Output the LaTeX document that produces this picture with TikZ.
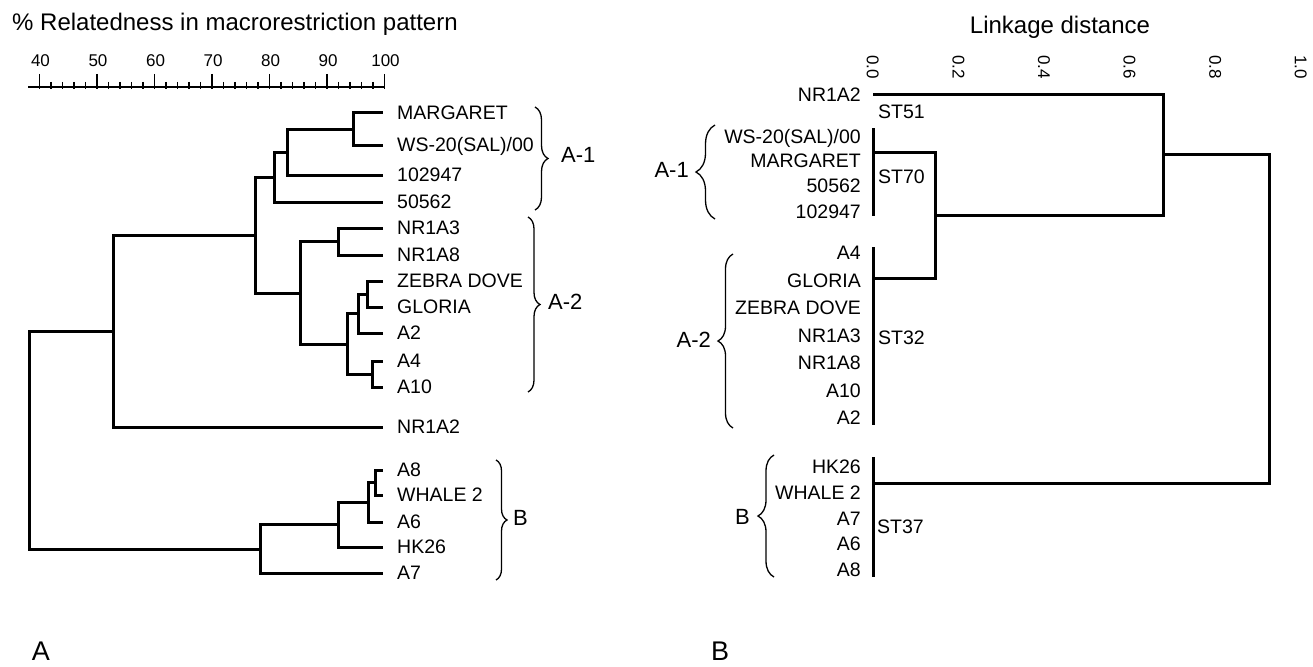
\documentclass[tikz,border=0pt]{standalone}
\usepackage{fontspec}
\setmainfont{Liberation Sans}
\usetikzlibrary{decorations.pathreplacing}
\begin{document}
\begin{tikzpicture}[x=1pt,y=-1pt,
  tree/.style={line width=3pt},
  axisline/.style={line width=1.3pt},
  tickline/.style={line width=1.1pt},
  bracel/.style={line width=1.3pt,decorate,decoration={brace,amplitude=#1}},
  leafl/.style={font=\fontsize{19.5}{20}\selectfont,inner sep=0pt,text height=13.8pt,text depth=0pt},
  stl/.style={font=\fontsize{19.5}{20}\selectfont,inner sep=0pt,text height=13.8pt,text depth=0pt,anchor=west},
  tickl/.style={font=\fontsize{17}{18}\selectfont,inner sep=0pt,text height=12.2pt,text depth=0pt},
  titlel/.style={font=\fontsize{24}{26}\selectfont,inner sep=0pt,text height=17.2pt,text depth=0pt},
  groupl/.style={font=\fontsize{22}{24}\selectfont,inner sep=0pt,text height=15.8pt,text depth=0pt},
  panell/.style={font=\fontsize{27}{29}\selectfont,inner sep=0pt,text height=19.4pt,text depth=0pt}]
\useasboundingbox (0,0) rectangle (1313,666);

% ---------------- Panel A ----------------
\node[titlel,anchor=west] (titleA) at (12,22) {\% Relatedness in macrorestriction pattern};
\draw[axisline] (28,87) -- (385,87);
\foreach \p in {42,44,46,48,52,54,56,58,62,64,66,68,72,74,76,78,82,84,86,88,92,94,96,98}{
  \pgfmathsetmacro\xx{39.5+5.75*(\p-40)}
  \draw[tickline] (\xx,82) -- (\xx,89.5);
}
\foreach \p in {40,50,...,100}{
  \pgfmathsetmacro\xx{39.5+5.75*(\p-40)}
  \draw[tickline] (\xx,74) -- (\xx,89.5);
  \node[tickl] (ax\p) at (\xx+1,60) {\p};
}

% leaves (x = 383)
\foreach \n/\y/\t in {lMAR/113/MARGARET, lWS/145/{WS-20(SAL)/00}, lOne/175/102947, lFive/202/50562,
  lNRc/228/NR1A3, lNRh/255/NR1A8, lZEB/281/ZEBRA DOVE, lGLO/307/GLORIA, lAb/333/A2,
  lAd/361/A4, lAj/387/A10, lNRb/427/NR1A2, lAh/470/A8, lWH/495/WHALE 2, lAf/522/A6,
  lHK/547/HK26, lAg/573/A7}{
  \coordinate (\n) at (383,\y);
  \node[leafl,anchor=west] (t\n) at (397,\y) {\t};
}

\coordinate (n1) at (353,129);
\coordinate (n2) at (287,152);
\coordinate (n3) at (274,177);
\coordinate (n4) at (338,241.5);
\coordinate (n5) at (367,294);
\coordinate (n6) at (358,313.5);
\coordinate (n7) at (372,374);
\coordinate (n8) at (347,344);
\coordinate (n9) at (300,293);
\coordinate (n10) at (255,235);
\coordinate (n11) at (113,331);
\coordinate (n12) at (375,482.5);
\coordinate (n13) at (368,502);
\coordinate (n14) at (338,524.5);
\coordinate (n15) at (260,549);
\coordinate (n16) at (29,440);

\draw[tree] (n1) |- (lMAR) (n1) |- (lWS);
\draw[tree] (n2) |- (n1) (n2) |- (lOne);
\draw[tree] (n3) |- (n2) (n3) |- (lFive);
\draw[tree] (n4) |- (lNRc) (n4) |- (lNRh);
\draw[tree] (n5) |- (lZEB) (n5) |- (lGLO);
\draw[tree] (n6) |- (n5) (n6) |- (lAb);
\draw[tree] (n7) |- (lAd) (n7) |- (lAj);
\draw[tree] (n8) |- (n6) (n8) |- (n7);
\draw[tree] (n9) |- (n4) (n9) |- (n8);
\draw[tree] (n10) |- (n3) (n10) |- (n9);
\draw[tree] (n11) |- (n10) (n11) |- (lNRb);
\draw[tree] (n12) |- (lAh) (n12) |- (lWH);
\draw[tree] (n13) |- (n12) (n13) |- (lAf);
\draw[tree] (n14) |- (n13) (n14) |- (lHK);
\draw[tree] (n15) |- (n14) (n15) |- (lAg);
\draw[tree] (n16) |- (n11) (n16) |- (n15);

% group braces, panel A
\coordinate (bA1t) at (535,107); \coordinate (bA1b) at (535,210);
\coordinate (bA2t) at (528,217); \coordinate (bA2b) at (528,392);
\coordinate (bBt) at (496,460);  \coordinate (bBb) at (496,580);
\draw[bracel=13pt] (bA1t) -- (bA1b);
\draw[bracel=12pt] (bA2t) -- (bA2b);
\draw[bracel=11pt] (bBt) -- (bBb);
\node[groupl,anchor=west] (gA1) at (561,155) {A-1};
\node[groupl,anchor=west] (gA2) at (548,302) {A-2};
\node[groupl,anchor=west] (gB) at (513,518) {B};

\node[panell] (panelA) at (41,651) {A};

% ---------------- Panel B ----------------
\node[titlel] (titleB) at (1060,25) {Linkage distance};
\foreach \v/\s in {0/0.0,2/0.2,4/0.4,6/0.6,8/0.8,10/1.0}{
  \node[tickl,rotate=-90,anchor=west] (bx\v) at (873+42.8*\v,55) {\s};
}

% right leaf labels (right aligned)
\foreach \n/\y/\t in {rNR/95/NR1A2, rWS/137/{WS-20(SAL)/00}, rMAR/161/MARGARET, rFive/186/50562,
  rOne/212/102947, rAd/253/A4, rGLO/280.5/GLORIA, rZEB/308/ZEBRA DOVE, rNRc/335.5/NR1A3,
  rNRh/363/NR1A8, rAj/390.5/A10, rAb/418/A2, rHK/467/HK26, rWH/493/WHALE 2, rAg/518.5/A7,
  rAf/544/A6, rAh/570/A8}{
  \node[leafl,anchor=east] (t\n) at (861,\y) {\t};
}

\coordinate (rNRb) at (873,95);
\coordinate (g70t) at (873,128); \coordinate (g70b) at (873,216); \coordinate (g70) at (873,152);
\coordinate (g32t) at (873,247); \coordinate (g32b) at (873,425); \coordinate (g32) at (873,278);
\coordinate (g37t) at (873,457); \coordinate (g37b) at (873,577); \coordinate (g37) at (873,483);
\coordinate (r1) at (935,215);
\coordinate (r2) at (1163,154);
\coordinate (r3) at (1269,318.5);

\draw[tree] (g70t) -- (g70b);
\draw[tree] (g32t) -- (g32b);
\draw[tree] (g37t) -- (g37b);
\draw[tree] (r1) |- (g70) (r1) |- (g32);
\draw[tree] (r2) |- (rNRb) (r2) |- (r1);
\draw[tree] (r3) |- (r2) (r3) |- (g37);

\node[stl] (st51) at (878,112) {ST51};
\node[stl] (st70) at (878,177) {ST70};
\node[stl] (st32) at (878,338) {ST32};
\node[stl] (st37) at (877,527) {ST37};

% group braces, panel B
\coordinate (cA1t) at (715,125); \coordinate (cA1b) at (715,219);
\coordinate (cA2t) at (733,254); \coordinate (cA2b) at (733,428);
\coordinate (cBt) at (774,455);  \coordinate (cBb) at (774,577);
\draw[bracel=19pt] (cA1b) -- (cA1t);
\draw[bracel=15pt] (cA2b) -- (cA2t);
\draw[bracel=16pt] (cBb) -- (cBt);
\node[groupl,anchor=east] (hA1) at (689,170) {A-1};
\node[groupl,anchor=east] (hA2) at (711,340) {A-2};
\node[groupl,anchor=east] (hB) at (750,517) {B};

\node[panell] (panelB) at (720,651) {B};
\end{tikzpicture}
\end{document}
